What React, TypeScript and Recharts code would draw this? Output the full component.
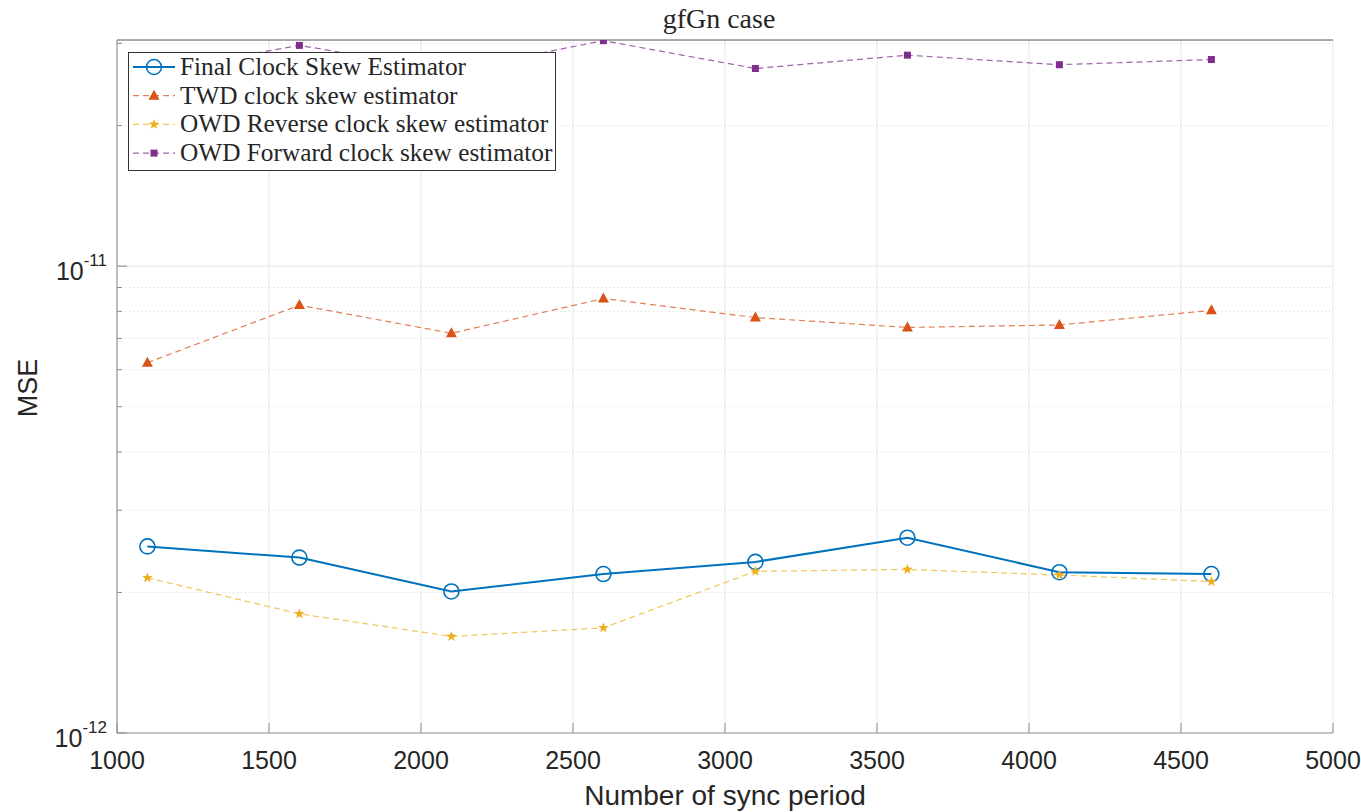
import React from "react";
import {
  LineChart,
  Line,
  XAxis,
  YAxis,
  CartesianGrid,
  ReferenceLine,
} from "recharts";

// sync periods on the x axis
const syncPeriods = [1100, 1600, 2100, 2600, 3100, 3600, 4100, 4600];

// MSE values
const finalSkew = [2.51e-12, 2.375e-12, 2.01e-12, 2.19e-12, 2.325e-12, 2.62e-12, 2.21e-12, 2.19e-12];
const twdSkew = [6.21e-12, 8.25e-12, 7.18e-12, 8.52e-12, 7.76e-12, 7.39e-12, 7.48e-12, 8.04e-12];
const owdReverse = [2.15e-12, 1.8e-12, 1.61e-12, 1.68e-12, 2.22e-12, 2.24e-12, 2.18e-12, 2.11e-12];
const owdForward = [2.6e-11, 2.97e-11, 2.62e-11, 3.04e-11, 2.65e-11, 2.83e-11, 2.7e-11, 2.77e-11];

const xTicks = [1000, 1500, 2000, 2500, 3000, 3500, 4000, 4500, 5000];
const yTicks = [
  1e-12, 2e-12, 3e-12, 4e-12, 5e-12, 6e-12, 7e-12, 8e-12, 9e-12, 1e-11, 2e-11, 3e-11,
];
const yDomain = [1e-12, 3.05e-11];

const data = syncPeriods.map((x, i) => ({
  x,
  final: finalSkew[i],
  twd: twdSkew[i],
  rev: owdReverse[i],
  fwd: owdForward[i],
}));

type Marker = "circle" | "triangle" | "star" | "square";

const series: { key: string; name: string; color: string; dash?: string; width: number; marker: Marker }[] = [
  { key: "final", name: "Final Clock Skew Estimator", color: "#0072BD", width: 2, marker: "circle" },
  { key: "twd", name: "TWD clock skew estimator", color: "#D95319", dash: "6 4", width: 1.2, marker: "triangle" },
  { key: "rev", name: "OWD Reverse clock skew estimator", color: "#EDB120", dash: "6 4", width: 1.2, marker: "star" },
  { key: "fwd", name: "OWD Forward clock skew estimator", color: "#7E2F8E", dash: "6 4", width: 1.2, marker: "square" },
];

const AXIS = "#8c8c8c";
const TEXT = "#262626";
const SANS = "'Liberation Sans', Arial, sans-serif";
const SERIF = "'Liberation Serif', 'DejaVu Serif', serif";

function starPath(cx: number, cy: number, r: number) {
  let d = "";
  for (let i = 0; i < 10; i++) {
    const rr = i % 2 === 0 ? r : r * 0.42;
    const a = -Math.PI / 2 + (i * Math.PI) / 5;
    d += (i === 0 ? "M" : "L") + (cx + rr * Math.cos(a)).toFixed(2) + "," + (cy + rr * Math.sin(a)).toFixed(2);
  }
  return d + "Z";
}

function drawMarker(m: Marker, cx: number, cy: number, color: string, key?: any) {
  if (m === "circle")
    return <circle key={key} cx={cx} cy={cy} r={7.5} fill="none" stroke={color} strokeWidth={1.6} />;
  if (m === "triangle")
    return (
      <path
        key={key}
        d={`M${cx},${cy - 6} L${cx + 5.5},${cy + 4} L${cx - 5.5},${cy + 4} Z`}
        fill={color}
      />
    );
  if (m === "star") return <path key={key} d={starPath(cx, cy, 5.5)} fill={color} />;
  return <rect key={key} x={cx - 3.5} y={cy - 3.5} width={7} height={7} fill={color} />;
}

const dotFor = (m: Marker, color: string) => (props: any) => {
  const { cx, cy, index } = props;
  if (cx == null || cy == null) return <g key={index} />;
  return drawMarker(m, cx, cy, color, index);
};

const isDecade = (v: number) => Math.abs(Math.log10(v) - Math.round(Math.log10(v))) < 1e-6;

const BottomTick = (props: any) => {
  const { x, y, payload } = props;
  return (
    <g>
      <line x1={x} x2={x} y1={y} y2={y - 10} stroke={AXIS} />
      <text x={x} y={y + 36} textAnchor="middle" fontSize={25} fontFamily={SANS} fill={TEXT}>
        {payload.value}
      </text>
    </g>
  );
};

const TopTick = (props: any) => {
  const { x, y } = props;
  return <line x1={x} x2={x} y1={y} y2={y + 10} stroke={AXIS} />;
};

const LeftTick = (props: any) => {
  const { x, y, payload } = props;
  const v = payload.value as number;
  const major = isDecade(v);
  return (
    <g>
      <line x1={x} x2={x + (major ? 10 : 5)} y1={y} y2={y} stroke={AXIS} />
      {major && (
        <text x={x - 10} y={y + 14} textAnchor="end" fontFamily={SANS} fill={TEXT} fontSize={25}>
          10
          <tspan fontSize={17} dy={-14}>
            {Math.round(Math.log10(v))}
          </tspan>
        </text>
      )}
    </g>
  );
};

const RightTick = (props: any) => {
  const { x, y, payload } = props;
  const major = isDecade(payload.value);
  return <line x1={x} x2={x - (major ? 10 : 5)} y1={y} y2={y} stroke={AXIS} />;
};

export default function App() {
  return (
    <div style={{ position: "absolute", left: 0, top: 0, width: 1361, height: 812, background: "#fff" }}>
      <LineChart
        width={1361}
        height={812}
        data={data}
        margin={{ top: 40, right: 28, bottom: 39, left: 57 }}
      >
        <CartesianGrid horizontal={false} stroke="#e8e8e8" />
        {yTicks
          .filter((v) => v > yDomain[0] && v < yDomain[1])
          .map((v) => (
            <ReferenceLine
              key={v}
              y={v}
              stroke={isDecade(v) ? "#e3e3e3" : "#d4d4d4"}
              strokeDasharray={isDecade(v) ? undefined : "1 3"}
            />
          ))}
        <ReferenceLine y={yDomain[1]} stroke="#555" />
        <XAxis
          dataKey="x"
          type="number"
          domain={[1000, 5000]}
          ticks={xTicks}
          interval={0}
          height={40}
          stroke={AXIS}
          tickLine={false}
          tickSize={0}
          tickMargin={0}
          tick={<BottomTick />}
        />
        <XAxis
          xAxisId="top"
          orientation="top"
          dataKey="x"
          type="number"
          domain={[1000, 5000]}
          ticks={xTicks}
          interval={0}
          height={0}
          stroke="#555"
          tickLine={false}
          tickSize={0}
          tickMargin={0}
          tick={<TopTick />}
        />
        <YAxis
          scale="log"
          type="number"
          domain={yDomain}
          allowDataOverflow
          ticks={yTicks}
          interval={0}
          width={60}
          stroke={AXIS}
          tickLine={false}
          tickSize={0}
          tickMargin={0}
          tick={<LeftTick />}
        />
        <YAxis
          yAxisId="right"
          orientation="right"
          scale="log"
          type="number"
          domain={yDomain}
          allowDataOverflow
          ticks={yTicks}
          interval={0}
          width={0}
          stroke={AXIS}
          tickLine={false}
          tickSize={0}
          tickMargin={0}
          tick={<RightTick />}
        />
        {series.map((s) => (
          <Line
            key={s.key}
            type="linear"
            dataKey={s.key}
            name={s.name}
            stroke={s.color}
            strokeWidth={s.width}
            strokeDasharray={s.dash}
            strokeOpacity={s.dash ? 0.75 : 1}
            dot={dotFor(s.marker, s.color)}
            activeDot={false}
            isAnimationActive={false}
          />
        ))}
      </LineChart>

      <svg
        width={1361}
        height={812}
        style={{ position: "absolute", left: 0, top: 0, pointerEvents: "none" }}
      >
        <text x={719} y={28} textAnchor="middle" fontFamily={SERIF} fontSize={28} fill={TEXT}>
          gfGn case
        </text>
        <text
          transform="translate(37,388) rotate(-90)"
          textAnchor="middle"
          fontFamily={SANS}
          fontSize={27}
          fill={TEXT}
        >
          MSE
        </text>
        <text x={725} y={805} textAnchor="middle" fontFamily={SANS} fontSize={28} fill={TEXT}>
          Number of sync period
        </text>

        <g transform="translate(128,52)">
          <rect x={0.5} y={0.5} width={427} height={118} fill="#fff" stroke="#333" strokeWidth={1} />
          {series.map((s, i) => {
            const cy = 15 + i * 28.7;
            return (
              <g key={s.key}>
                <line
                  x1={5}
                  x2={47}
                  y1={cy}
                  y2={cy}
                  stroke={s.color}
                  strokeWidth={s.width}
                  strokeDasharray={s.dash}
                  strokeOpacity={s.dash ? 0.75 : 1}
                />
                {drawMarker(s.marker, 26, cy, s.color)}
                <text x={52} y={cy + 8} fontFamily={SERIF} fontSize={25.3} fill={TEXT}>
                  {s.name}
                </text>
              </g>
            );
          })}
        </g>
      </svg>
    </div>
  );
}
